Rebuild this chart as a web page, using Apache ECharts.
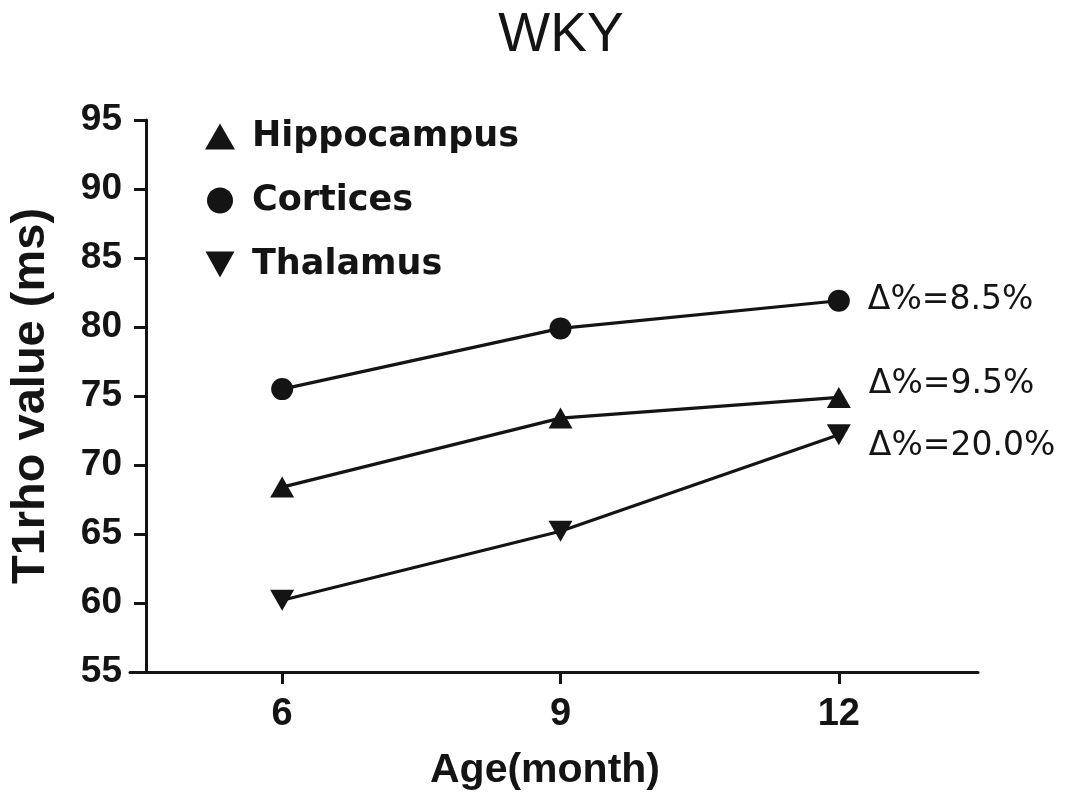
<!DOCTYPE html>
<html>
<head>
<meta charset="utf-8">
<script src="https://cdn.jsdelivr.net/npm/echarts@6/dist/echarts.min.js"></script>
<style>
  html, body { margin: 0; padding: 0; background: #fff; }
  #chart { width: 1070px; height: 805px; }
</style>
</head>
<body>
<div id="chart"></div>
<script>
// Age in months at each measurement
const ages = [6, 9, 12];
const yTicks = [55, 60, 65, 70, 75, 80, 85, 90, 95];

// T1rho value (ms) per brain region
const seriesNames = ['Hippocampus', 'Cortices', 'Thalamus'];
const hippocampus = [68.4, 73.4, 74.9];
const cortices = [75.5, 79.9, 81.9];
const thalamus = [60.2, 65.2, 72.2];
// Change from 6 to 12 months, %
const deltaPct = [9.5, 8.5, 20.0];

const INK = '#141414';
const downTri = 'path://M0,0 L10,0 L5,9 Z';
const symbols = ['triangle', 'circle', downTri];
const labelOffsets = [[0, -13], [0, 0], [0, 12]];
const values = [hippocampus, cortices, thalamus];

const chart = echarts.init(document.getElementById('chart'));

const series = seriesNames.map((name, i) => ({
  name: name,
  type: 'line',
  data: ages.map((a, j) => [a, values[i][j]]),
  symbol: symbols[i],
  symbolSize: i === 1 ? 22 : [24, 21],
  lineStyle: { color: INK, width: 3.2 },
  itemStyle: { color: INK },
  emphasis: { disabled: true },
  label: {
    show: true,
    position: 'right',
    distance: 18,
    offset: labelOffsets[i],
    fontFamily: 'DejaVu Sans',
    fontSize: 33,
    color: INK,
    formatter: p => p.dataIndex === ages.length - 1 ? 'Δ%=' + deltaPct[i].toFixed(1) + '%' : ''
  },
  z: 3
}));

chart.setOption({
  animation: false,
  backgroundColor: '#fff',
  title: {
    text: 'WKY',
    left: 556,
    top: 3,
    textAlign: 'center',
    textStyle: { fontFamily: 'Liberation Sans', fontWeight: 'normal', fontSize: 55, color: INK }
  },
  legend: {
    orient: 'vertical',
    left: 200,
    top: 114,
    itemWidth: 30,
    itemHeight: 26,
    itemGap: 29,
    data: seriesNames.map((n, i) => ({ name: n, icon: symbols[i] })),
    textStyle: { fontFamily: 'DejaVu Sans', fontWeight: 'bold', fontSize: 35, color: INK, padding: [0, 0, 0, 12] },
    selectedMode: false
  },
  grid: { left: 130, right: 92, top: 120, bottom: 133, containLabel: false, outerBoundsMode: 'none' },
  xAxis: {
    type: 'value',
    min: 4.36,
    max: 13.5,
    interval: 3,
    name: 'Age(month)',
    nameLocation: 'middle',
    nameGap: 78,
    nameTextStyle: { fontFamily: 'Liberation Sans', fontWeight: 'bold', fontSize: 41, color: INK, padding: [0, 18, 0, 0] },
    axisLine: { lineStyle: { color: INK, width: 3 } },
    axisTick: { show: true, length: 12, lineStyle: { color: INK, width: 3 },
      customValues: ages },
    axisLabel: { fontFamily: 'Liberation Sans', fontWeight: 'bold', fontSize: 38, color: INK, margin: 24,
      customValues: ages },
    splitLine: { show: false }
  },
  yAxis: {
    type: 'value',
    min: yTicks[0],
    max: yTicks[yTicks.length - 1],
    interval: 5,
    offset: -16,
    name: 'T1rho value (ms)',
    nameLocation: 'middle',
    nameGap: 91,
    nameRotate: 90,
    nameTextStyle: { fontFamily: 'Liberation Sans', fontWeight: 'bold', fontSize: 47, color: INK },
    axisLine: { show: true, lineStyle: { color: INK, width: 3 } },
    axisTick: { show: true, length: 12, lineStyle: { color: INK, width: 3 } },
    axisLabel: { fontFamily: 'Liberation Sans', fontWeight: 'bold', fontSize: 37, color: INK, margin: 24 },
    splitLine: { show: false }
  },
  series: series
});
</script>
</body>
</html>
